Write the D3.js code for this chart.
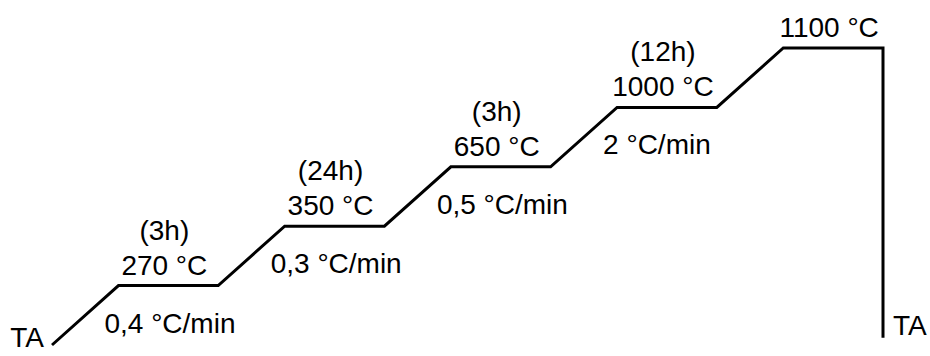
<!DOCTYPE html>
<html>
<head>
<meta charset="utf-8">
<script src="https://cdn.jsdelivr.net/npm/d3@7"></script>
<style>
  body { margin: 0; background: #fff; }
  text { font-family: "Liberation Sans", Arial, sans-serif; font-size: 28px; fill: #000; }
</style>
</head>
<body>
<script>
// Temperature levels of the firing program (schematic, evenly spaced)
const levels = ['TA', '270 °C', '350 °C', '650 °C', '1000 °C', '1100 °C'];
// Dwell time at each plateau
const holds = ['(3h)', '(24h)', '(3h)', '(12h)', ''];
// Heating rate of the ramp leading to each plateau
const rates = ['0,4 °C/min', '0,3 °C/min', '0,5 °C/min', '2 °C/min', ''];
// Schematic durations (arbitrary units) of each ramp and dwell
const rampUnits = [2, 2, 2, 2, 2];
const dwellUnits = [3, 3, 3, 3, 3];
// Level reached at the end of the quench (slightly above start)
const coolEnd = 0.12;

const width = 930, height = 356;

const svg = d3.select('body')
    .append('svg')
    .attr('width', width)
    .attr('height', height);

// Build the profile in (time, level) units
const points = [{ t: 0, l: 0 }];
const plateaus = [];
let t = 0;
rampUnits.forEach((r, i) => {
    t += r;
    const start = t;
    points.push({ t: t, l: i + 1 });
    t += dwellUnits[i];
    points.push({ t: t, l: i + 1 });
    plateaus.push({ i, start, end: t, l: i + 1 });
});
points.push({ t: t, l: coolEnd });

const x = d3.scaleLinear()
    .domain([0, t])
    .range([52, 883]);

const y = d3.scaleLinear()
    .domain([0, levels.length - 1])
    .range([345, 48]);

svg.append('path')
    .datum(points)
    .attr('fill', 'none')
    .attr('stroke', '#000')
    .attr('stroke-width', 3)
    .attr('stroke-linejoin', 'miter')
    .attr('d', d3.line()
        .x(d => x(d.t))
        .y(d => y(d.l))
    );

// Start and end labels
svg.append('text')
    .attr('x', x(0) - 8)
    .attr('y', y(0) + 2)
    .attr('text-anchor', 'end')
    .text(levels[0]);

svg.append('text')
    .attr('x', x(t) + 10)
    .attr('y', y(coolEnd) - 3)
    .attr('text-anchor', 'start')
    .text(levels[0]);

// Plateau labels: temperature with dwell time above
const pl = svg.selectAll('g.plateau')
    .data(plateaus)
    .join('g')
    .attr('class', 'plateau');

pl.append('text')
    .attr('x', d => x((d.start + d.end) / 2) - 4)
    .attr('y', d => y(d.l) - 11)
    .attr('text-anchor', 'middle')
    .text(d => levels[d.l]);

pl.append('text')
    .attr('x', d => x((d.start + d.end) / 2) - 4)
    .attr('y', d => y(d.l) - 46)
    .attr('text-anchor', 'middle')
    .text(d => holds[d.i]);

// Heating rate below each plateau
pl.append('text')
    .attr('x', d => x(d.start) - 14)
    .attr('y', d => y(d.l) + 47)
    .attr('text-anchor', 'start')
    .text(d => rates[d.i]);
</script>
</body>
</html>
